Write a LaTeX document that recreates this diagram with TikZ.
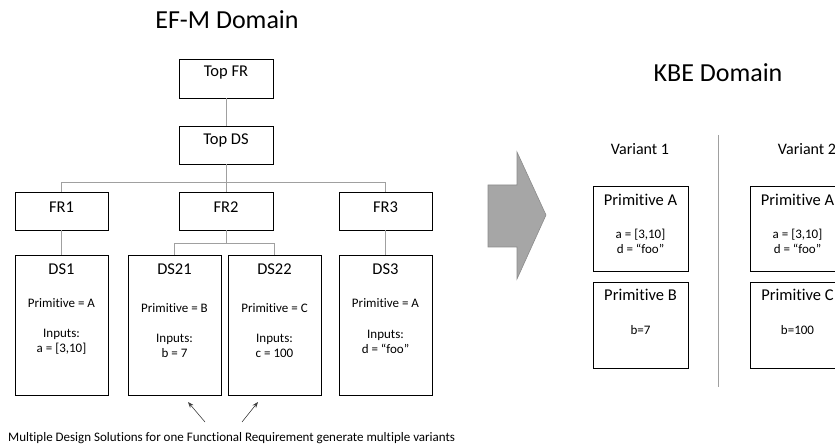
\documentclass[tikz,border=0pt]{standalone}
\usepackage{fontspec}
\setmainfont{Carlito}[Ligatures={NoCommon}]
\usetikzlibrary{arrows.meta}
\definecolor{conncol}{HTML}{A0A0A0}
\definecolor{arrowfill}{HTML}{A6A6A6}
\definecolor{arrowedge}{HTML}{8C8C8C}
\definecolor{notecol}{HTML}{404040}
\begin{document}
\begin{tikzpicture}[x=1pt,y=-1pt,
  box/.style={draw=black, line width=0.9pt, inner sep=0pt, minimum width=94pt},
  conn/.style={draw=conncol, line width=0.9pt},
  ttl/.style={font=\fontsize{26}{30}\selectfont, inner sep=0pt},
  lbl/.style={font=\fontsize{16.5}{19}\selectfont, inner sep=0pt},
  small/.style={font=\fontsize{13}{15}\selectfont, inner sep=0pt, align=center},
  note/.style={draw=notecol, line width=0.6pt, -{Stealth[length=6pt,width=4.5pt]}}
]
\useasboundingbox (0,0) rectangle (835,446);
\clip (0,0) rectangle (835,446);

% titles
\node[ttl] (efm) at (227,20) {EF-M Domain};
\node[ttl] (kbe) at (718,73) {KBE Domain};

% EF-M tree
\node[box, minimum height=39pt, lbl] (topfr) at (226,78.5) {};
\node[lbl] (topfrt) at (226,73) {Top FR};
\node[box, minimum height=38pt] (topds) at (226,145) {};
\node[lbl] (topdst) at (226,140) {Top DS};

\node[box, minimum width=93pt, minimum height=38pt] (fr1) at (61.5,211) {};
\node[lbl] (fr1t) at (61.5,207) {FR1};
\node[box, minimum height=38pt] (fr2) at (226,211) {};
\node[lbl] (fr2t) at (226,207) {FR2};
\node[box, minimum width=93pt, minimum height=38pt] (fr3) at (385.5,211) {};
\node[lbl] (fr3t) at (385.5,207) {FR3};

\node[box, minimum width=93pt, minimum height=140pt] (ds1) at (61.5,325) {};
\node[box, minimum width=93pt, minimum height=140pt] (ds21) at (174.5,325) {};
\node[box, minimum width=93pt, minimum height=140pt] (ds22) at (274.5,325) {};
\node[box, minimum width=93pt, minimum height=140pt] (ds3) at (385.5,325) {};

\node[lbl] (ds1t) at (61.5,269) {DS1};
\node[small] (ds1p) at (61.5,303) {Primitive = A};
\node[small] (ds1i) at (61.5,342) {Inputs:\\a = [3,10]};

\node[lbl] (ds21t) at (174.5,269) {DS21};
\node[small] (ds21p) at (174.5,308) {Primitive = B};
\node[small] (ds21i) at (174.5,346) {Inputs:\\b = 7};

\node[lbl] (ds22t) at (274.5,269) {DS22};
\node[small] (ds22p) at (274.5,308) {Primitive = C};
\node[small] (ds22i) at (274.5,346) {Inputs:\\c = 100};

\node[lbl] (ds3t) at (385.5,269) {DS3};
\node[small] (ds3p) at (385.5,303) {Primitive = A};
\node[small] (ds3i) at (385.5,342) {Inputs:\\d = “foo”};

% connectors
\draw[conn] (topfr.south) -- (topds.north);
\draw[conn] (topds.south) -- ++(0,18) coordinate (bus);
\draw[conn] (fr1.north) |- (bus) -| (fr3.north);
\draw[conn] (bus) -- (fr2.north);
\draw[conn] (fr1.south) -- (ds1.north);
\draw[conn] (fr3.south) -- (ds3.north);
\draw[conn] (fr2.south) -- ++(0,13) coordinate (bus2);
\draw[conn] (ds21.north) |- (bus2) -| (ds22.north);

% note
\node[small, anchor=base west] (notet) at (8,441) {Multiple Design Solutions for one Functional Requirement generate multiple variants};
\coordinate (n1s) at (205,422);
\coordinate (n1e) at (188,402);
\coordinate (n2s) at (242,422);
\coordinate (n2e) at (258,402);
\draw[note] (n1s) -- (n1e);
\draw[note] (n2s) -- (n2e);

% big arrow
\draw[fill=arrowfill, draw=arrowedge, line width=0.6pt, line join=miter]
  (488,185) -- (517,185) -- (517,152) -- (546,215) -- (517,279) -- (517,247) -- (488,247) -- cycle;

% separator
\draw[conn] (718,135) -- (718,387);

% variants
\node[lbl, font=\fontsize{16}{19}\selectfont] (v1) at (640,149) {Variant 1};
\node[lbl, font=\fontsize{16}{19}\selectfont] (v2) at (807,149) {Variant 2};

\node[box, minimum width=95pt, minimum height=85pt] (pa1) at (640.5,228.5) {};
\node[lbl] (pa1t) at (640.5,200) {Primitive A};
\node[small] (pa1v) at (640.5,241) {a = [3,10]\\d = “foo”};

\node[box, minimum width=95pt, minimum height=86pt] (pb1) at (640.5,325) {};
\node[lbl] (pb1t) at (640.5,295) {Primitive B};
\node[small] (pb1v) at (640.5,330) {b=7};

\node[box, minimum width=95pt, minimum height=85pt] (pa2) at (797.5,228.5) {};
\node[lbl] (pa2t) at (797.5,200) {Primitive A};
\node[small] (pa2v) at (797.5,241) {a = [3,10]\\d = “foo”};

\node[box, minimum width=95pt, minimum height=86pt] (pc2) at (797.5,325) {};
\node[lbl] (pc2t) at (797.5,295) {Primitive C};
\node[small] (pc2v) at (797.5,330) {b=100};
\end{tikzpicture}
\end{document}
